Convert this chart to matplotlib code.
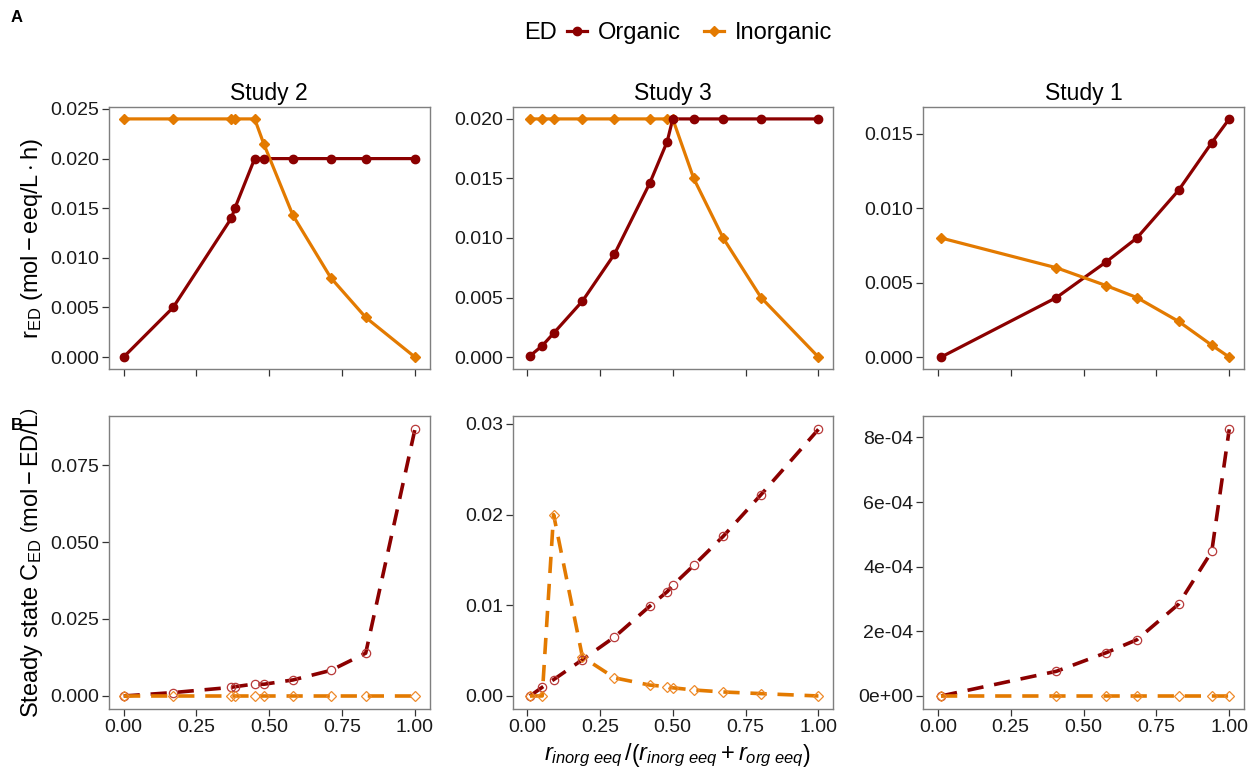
import matplotlib
matplotlib.use("Agg")
import matplotlib.pyplot as plt
from matplotlib.lines import Line2D
from matplotlib.ticker import FixedLocator, FuncFormatter

plt.rcParams['font.family'] = ['Liberation Sans', 'DejaVu Sans']
plt.rcParams['mathtext.fontset'] = 'custom'
plt.rcParams['mathtext.rm'] = 'Liberation Sans'
plt.rcParams['mathtext.it'] = 'Liberation Sans:italic'
plt.rcParams['mathtext.bf'] = 'Liberation Sans:bold'

ORG = '#8B0000'
INORG = '#E37A00'
ORG_PT = '#B83A3A'
INORG_PT = '#EE8A2A'

studies = ['Study 2', 'Study 3', 'Study 1']

# fraction of inorganic electron donor, per study
x_s2 = [0.0, 0.17, 0.37, 0.382, 0.45, 0.481, 0.581, 0.711, 0.831, 1.0]
x_s3 = [0.01, 0.052, 0.091, 0.19, 0.30, 0.421, 0.481, 0.5, 0.572, 0.673, 0.803, 1.0]
x_s1 = [0.011, 0.407, 0.578, 0.683, 0.826, 0.940, 1.0]

# utilisation rates r_ED
rate_org_s2 = [0.0, 0.005, 0.014, 0.015, 0.020, 0.020, 0.020, 0.020, 0.020, 0.020]
rate_inorg_s2 = [0.024, 0.024, 0.024, 0.024, 0.024, 0.0215, 0.0143, 0.008, 0.004, 0.0]
rate_org_s3 = [0.0001, 0.00095, 0.002, 0.0047, 0.00865, 0.0146, 0.0181, 0.020,
               0.020, 0.020, 0.020, 0.020]
rate_inorg_s3 = [0.020, 0.020, 0.020, 0.020, 0.020, 0.020, 0.020, 0.020,
                 0.015, 0.010, 0.005, 0.0]
rate_org_s1 = [0.0, 0.004, 0.0064, 0.008, 0.0112, 0.0144, 0.016]
rate_inorg_s1 = [0.008, 0.006, 0.0048, 0.004, 0.0024, 0.0008, 0.0]

# steady state concentrations C_ED
conc_org_s2 = [0.0, 0.0011, 0.0028, 0.003, 0.0039, 0.0038, 0.0052, 0.0083, 0.0139, 0.0866]
conc_inorg_s2 = [0.0] * 10
conc_org_s3 = [0.0, 0.00096, 0.0018, 0.0040, 0.0065, 0.0099, 0.0115, 0.0122,
               0.0144, 0.0176, 0.0222, 0.0294]
conc_inorg_s3 = [0.0, 0.0, 0.020, 0.0043, 0.0020, 0.0012, 0.00103, 0.0009,
                 0.00066, 0.00044, 0.00026, 0.0]
conc_org_s1 = [0.0, 0.764e-4, 1.34e-4, 1.74e-4, 2.84e-4, 4.47e-4, 8.25e-4]
conc_inorg_s1 = [0.0] * 7

xs = [x_s2, x_s3, x_s1]
rates = [(rate_org_s2, rate_inorg_s2), (rate_org_s3, rate_inorg_s3), (rate_org_s1, rate_inorg_s1)]
concs = [(conc_org_s2, conc_inorg_s2), (conc_org_s3, conc_inorg_s3), (conc_org_s1, conc_inorg_s1)]

top_ticks = [[0, 0.005, 0.01, 0.015, 0.02, 0.025],
             [0, 0.005, 0.01, 0.015, 0.02],
             [0, 0.005, 0.01, 0.015]]
bot_ticks = [[0, 0.025, 0.05, 0.075],
             [0, 0.01, 0.02, 0.03],
             [0, 2e-4, 4e-4, 6e-4, 8e-4]]
bot_fmt = [lambda v, p: '%.3f' % v,
           lambda v, p: '%.2f' % v,
           lambda v, p: '%.0e' % v if v != 0 else '0e+00']

W, H = 1258, 774
fig = plt.figure(figsize=(W / 100, H / 100), dpi=100)

lefts = [109, 512.5, 923.3]
pw = 320.5


def style(ax):
    for s in ax.spines.values():
        s.set_color('#7f7f7f')
        s.set_linewidth(1.0)
    ax.tick_params(direction='out', length=5, width=0.9, color='#333333',
                   labelsize=14, labelcolor='#1a1a1a', pad=2)
    ax.set_xlim(-0.05, 1.05)
    ax.xaxis.set_major_locator(FixedLocator([0, 0.25, 0.5, 0.75, 1.0]))


for i in range(3):
    # top row: rates
    ax = fig.add_axes([lefts[i] / W, 1 - 369 / H, pw / W, 262 / H])
    style(ax)
    org, inorg = rates[i]
    ax.plot(xs[i], org, color=ORG, lw=2.3, zorder=2)
    ax.plot(xs[i], inorg, color=INORG, lw=2.3, zorder=2)
    ax.plot(xs[i], inorg, 'D', color=INORG, ms=5.5, zorder=3)
    ax.plot(xs[i], org, 'o', color=ORG, ms=6, zorder=4)
    ax.yaxis.set_major_locator(FixedLocator(top_ticks[i]))
    ax.yaxis.set_major_formatter(FuncFormatter(lambda v, p: '%.3f' % v))
    ax.set_xticklabels([])
    ax.set_title(studies[i], fontsize=16.5, pad=5)
    lo, hi = min(org + inorg), max(org + inorg)
    ax.set_ylim(lo - 0.05 * (hi - lo), hi + 0.05 * (hi - lo))
    if i == 0:
        ax.set_ylabel(r'$\mathrm{r_{ED}}\ \left(\mathrm{mol-eeq/L\cdot h}\right)$',
                      fontsize=17, labelpad=4)

    # bottom row: steady state concentrations
    ax = fig.add_axes([lefts[i] / W, 1 - 709.3 / H, pw / W, 293.3 / H])
    style(ax)
    org, inorg = concs[i]
    ax.plot(xs[i], org, color=ORG, lw=2.6, dashes=(4.5, 3), zorder=2)
    ax.plot(xs[i], inorg, color=INORG, lw=2.6, dashes=(4.5, 3), zorder=2)
    ax.plot(xs[i], org, 'o', mfc='none', mec=ORG_PT, mew=0.9, ms=6, zorder=3)
    ax.plot(xs[i], inorg, 'D', mfc='none', mec=INORG_PT, mew=0.9, ms=5.5, zorder=3)
    ax.yaxis.set_major_locator(FixedLocator(bot_ticks[i]))
    ax.yaxis.set_major_formatter(FuncFormatter(bot_fmt[i]))
    ax.xaxis.set_major_formatter(FuncFormatter(lambda v, p: '%.2f' % v))
    lo, hi = min(org + inorg), max(org + inorg)
    ax.set_ylim(lo - 0.05 * (hi - lo), hi + 0.05 * (hi - lo))
    if i == 0:
        ax.set_ylabel(r'$\mathrm{Steady\ state\ C_{ED}}\ \left(\mathrm{mol-ED/L}\right)$',
                      fontsize=17, labelpad=4)

fig.text(677 / W, 1 - 756 / H,
         r'$r_{inorg\ eeq}\,/\left(r_{inorg\ eeq}+r_{org\ eeq}\right)$',
         ha='center', va='center', fontsize=17)

fig.text(11 / W, 1 - 18 / H, 'A', fontsize=12, fontweight='bold', va='center')
fig.text(11 / W, 1 - 425 / H, 'B', fontsize=12, fontweight='bold', va='center')

handles = [Line2D([], [], color=ORG, lw=2.3, marker='o', ms=6),
           Line2D([], [], color=INORG, lw=2.3, marker='D', ms=5.5)]
fig.text(524 / W, 1 - 33 / H, 'ED', fontsize=17, va='center')
fig.legend(handles, ['Organic', 'Inorganic'], loc='center left',
           bbox_to_anchor=(567 / W, 1 - 33 / H), ncol=2, frameon=False,
           fontsize=17, handlelength=0.85, handletextpad=0.45, columnspacing=1.0,
           borderaxespad=0, borderpad=0)

fig.savefig('out.png', dpi=100)
